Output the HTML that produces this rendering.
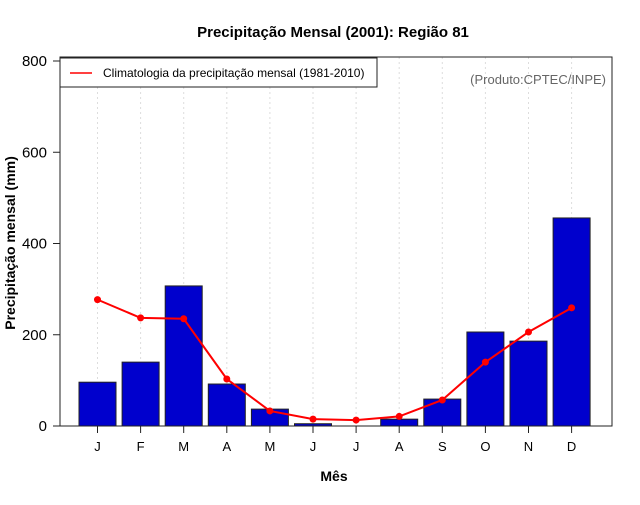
<!DOCTYPE html>
<html><head><meta charset="utf-8"><style>
body{margin:0;background:#fff;}
svg text{font-family:"Liberation Sans",sans-serif;}
</style></head><body>
<svg id="chart" width="640" height="500"></svg>
<script>
const months = ["J","F","M","A","M","J","J","A","S","O","N","D"];
const precip2001 = [96,140,307,92,37,5,0,15,59,206,186,456];
const climatology = [277,237,235,103,33,15,13,21,57,140,206,259];
const yTicks = [0,200,400,600,800];
const NS="http://www.w3.org/2000/svg";
const svg=document.getElementById('chart');
const L=60,R=612,T=57,B=426;
const x0=97.5,dx=43.1,bw=37;
function xs(i){return x0+i*dx;}
function ys(v){return B-(v/800)*(B-61);}
function mk(tag,attrs,parent){const e=document.createElementNS(NS,tag);for(const k in attrs)e.setAttribute(k,attrs[k]);(parent||svg).appendChild(e);return e;}
// grid
months.forEach((m,i)=>{const g=mk('line',{x1:xs(i),x2:xs(i),y1:T,y2:B,stroke:'#ddd','stroke-dasharray':'2,3'});

});
// bars
precip2001.forEach((v,i)=>{const b=mk('rect',{x:xs(i)-bw/2,y:ys(v),width:bw,height:B-ys(v),fill:'#0000cd',stroke:'#222','stroke-width':1});

});
// line
const pts=climatology.map((v,i)=>xs(i)+','+ys(v)).join(' ');
const pl=mk('polyline',{points:pts,fill:'none',stroke:'#f00','stroke-width':2});


climatology.forEach((v,i)=>{const c=mk('circle',{cx:xs(i),cy:ys(v),r:3.5,fill:'#f00'});

});
// frame
const fr=mk('rect',{x:L,y:T,width:R-L,height:B-T,fill:'none',stroke:'#222','stroke-width':1});


// y ticks
yTicks.forEach(t=>{mk('line',{x1:L-7,x2:L,y1:ys(t),y2:ys(t),stroke:'#222'});
const tx=mk('text',{x:L-13,y:ys(t)+5,'text-anchor':'end','font-size':15,fill:'#000'});tx.textContent=t;

});
// x ticks
months.forEach((m,i)=>{mk('line',{x1:xs(i),x2:xs(i),y1:B,y2:B+7,stroke:'#222'});
const tx=mk('text',{x:xs(i),y:451,'text-anchor':'middle','font-size':13,fill:'#000'});tx.textContent=m;

});
</script>
<svg width="640" height="500" style="position:absolute;left:0;top:0">
<text x="333" y="37" text-anchor="middle" font-size="15" font-weight="bold">Precipitação Mensal (2001): Região 81</text>
<text x="334" y="481" text-anchor="middle" font-size="14" font-weight="bold">Mês</text>
<text transform="translate(15,243) rotate(-90)" text-anchor="middle" font-size="14" font-weight="bold">Precipitação mensal (mm)</text>
<g>
<rect x="60" y="58" width="317" height="29" fill="#fff" stroke="#222"/>
<line x1="70" x2="92" y1="73" y2="73" stroke="#f00" stroke-width="1.5"/>
<text x="103" y="77" font-size="12">Climatologia da precipitação mensal (1981-2010)</text>
</g>
<text x="606" y="84" text-anchor="end" font-size="13" fill="#666">(Produto:CPTEC/INPE)</text>
</svg>
</body></html>
